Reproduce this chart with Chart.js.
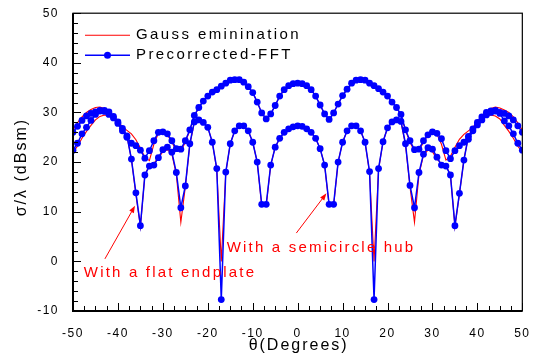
<!DOCTYPE html>
<html>
<head>
<meta charset="utf-8">
<script src="https://cdn.jsdelivr.net/npm/chart.js@4.4.0/dist/chart.umd.min.js"></script>
<style>
html,body{margin:0;padding:0;background:#fff;}
#wrap{width:536px;height:358px;position:relative;}
canvas{display:block;}
</style>
</head>
<body>
<div id="wrap"><canvas id="c" width="536" height="358"></canvas></div>
<script>
// ---------- data ----------
const theta = [-50,-49,-48,-47,-46,-45,-44,-43,-42,-41,
  -40,-39,-38,-37,-36,-35,-34,-33,-32,-31,
  -30,-29,-28,-27,-26,-25,-24,-23,-22,-21,
  -20,-19,-18,-17,-16,-15,-14,-13,-12,-11,
  -10,-9,-8,-7,-6,-5,-4,-3,-2,-1,
  0,
  1,2,3,4,5,6,7,8,9,10,
  11,12,13,14,15,16,17,18,19,20,
  21,22,23,24,25,26,27,28,29,30,
  31,32,33,34,35,36,37,38,39,40,
  41,42,43,44,45,46,47,48,49,50];

// flat endplate, Precorrected-FFT
const endplateFFT = [26.0,27.2,28.4,29.3,29.8,30.1,30.3,30.2,29.6,28.9,
  27.8,26.3,25.0,23.8,23.3,22.4,20.8,22.3,24.3,26.0,
  26.1,25.7,24.3,22.7,22.6,24.3,26.5,29.4,31.0,32.3,
  33.3,34.1,34.6,35.3,35.9,36.5,36.6,36.6,36.1,35.2,
  34.0,32.1,29.9,28.7,29.7,31.4,33.3,34.6,35.4,35.8,
  35.9,
  35.8,35.4,34.6,33.3,31.5,29.7,28.6,29.9,31.7,33.4,
  34.7,35.9,36.5,36.6,36.5,35.9,35.4,34.8,34.1,33.3,
  32.1,31.0,29.6,26.5,24.3,22.5,22.6,24.3,25.5,26.1,
  25.8,24.7,22.3,20.7,22.3,23.3,24.0,24.6,26.3,27.5,
  28.5,29.5,30.0,30.3,30.0,29.8,29.3,28.5,27.3,26.0];

// flat endplate, Gauss elimination
const endplateGauss = [26.4,27.9,29.1,30.0,30.6,31.0,31.1,30.8,30.2,29.3,
  28.2,27.1,26.4,25.7,24.5,22.8,21.0,20.3,23.6,25.8,
  26.0,25.5,24.0,22.3,22.2,24.0,26.4,29.2,31.0,32.3,
  33.3,34.1,34.6,35.3,35.9,36.5,36.6,36.6,36.1,35.2,
  34.0,32.1,29.9,28.7,29.7,31.4,33.3,34.6,35.4,35.8,
  35.9,
  35.8,35.4,34.6,33.3,31.5,29.7,28.6,29.9,31.7,33.4,
  34.7,35.9,36.5,36.6,36.5,35.9,35.4,34.8,34.1,33.3,
  32.1,31.0,29.4,26.4,24.0,22.2,22.3,24.0,25.4,26.0,
  25.6,23.6,20.4,21.2,23.0,24.6,25.6,26.3,27.0,28.2,
  29.2,30.2,30.8,31.1,30.9,30.5,30.0,29.1,27.9,26.4];

// semicircle hub, Precorrected-FFT
const hubFFT = [22.4,23.8,25.7,27.0,28.4,29.6,30.4,30.4,30.1,29.2,
  28.1,26.8,25.3,20.6,13.8,7.2,17.4,19.2,19.4,20.9,
  22.5,23.0,22.0,17.9,10.8,15.2,23.7,28.1,28.5,28.0,
  27.0,24.0,18.7,-7.7,18.0,23.7,26.3,27.3,27.3,26.3,
  24.0,20.0,11.5,11.5,19.4,23.0,24.8,26.0,26.7,27.1,
  27.3,
  27.2,26.7,26.0,24.8,22.7,19.4,11.5,11.5,20.0,24.0,
  26.3,27.3,27.3,26.3,24.0,18.1,-7.7,18.7,24.1,26.9,
  28.1,28.5,28.2,23.7,15.3,10.8,17.9,21.6,22.9,22.6,
  21.0,19.4,19.2,17.4,7.2,13.7,20.4,25.2,26.7,28.0,
  29.1,30.0,30.3,30.4,29.8,28.3,27.3,25.7,23.8,22.4];

// semicircle hub, Gauss elimination
const hubGauss = [22.0,23.2,24.8,26.2,27.4,28.5,29.2,29.5,29.4,28.8,
  28.0,26.8,25.3,20.6,13.5,7.0,17.4,19.4,19.8,20.8,
  22.1,22.5,21.6,17.5,7.9,15.0,23.5,28.0,28.5,28.0,
  27.0,24.0,18.5,0.0,17.8,23.7,26.3,27.3,27.3,26.3,
  24.0,20.0,11.2,11.2,19.4,23.0,24.8,26.0,26.7,27.1,
  27.3,
  27.2,26.7,26.0,24.8,22.7,19.4,11.2,11.2,20.0,24.0,
  26.3,27.3,27.3,26.3,24.0,17.8,0.0,18.5,24.1,26.9,
  28.0,28.5,28.0,23.5,15.0,7.9,17.5,21.4,22.4,22.1,
  20.6,19.7,19.3,17.4,7.0,13.5,20.5,25.2,26.8,28.0,
  28.8,29.4,29.5,29.3,28.7,27.4,26.2,24.8,23.2,22.0];

const xTickValues = [-50,-40,-30,-20,-10,0,10,20,30,40,50];
const yTickValues = [-10,0,10,20,30,40,50];
const legendLabels = ['Gauss eminination', 'Precorrected-FFT'];
const xTitle = 'θ(Degrees)';
const yTitle = 'σ/λ (dBsm)';
const notes = [
  {text: 'With a flat endplate', x: -47.6, y: -2.4, tail: [-42.9, 0.5], head: [-36.2, 11.2]},
  {text: 'With a semicircle hub', x: -15.8, y: 2.7, tail: [-0.3, 5.7], head: [6.4, 13.7]}
];

// ---------- chart ----------
const FONT = '"Liberation Sans", Arial, sans-serif';
const BLUE = '#0000ff';
const RED = '#ff0000';
Chart.defaults.font.family = FONT;

function pts(arr) { return theta.map((t, i) => ({x: t, y: arr[i]})); }

const blueStyle = {borderColor: BLUE, backgroundColor: BLUE, borderWidth: 1.5,
  pointRadius: 3.4, pointBorderWidth: 0, pointBackgroundColor: BLUE, tension: 0, order: 1};
const redStyle = {borderColor: RED, backgroundColor: RED, borderWidth: 1.1,
  pointRadius: 0, tension: 0, order: 2};

const decor = {
  id: 'decor',
  beforeDraw(chart) {
    chart.ctx.letterSpacing = '1.5px';
  },
  afterDraw(chart) {
    const {ctx, chartArea: a} = chart;
    const xs = chart.scales.x, ys = chart.scales.y;
    ctx.save();
    ctx.letterSpacing = '0px';
    ctx.strokeStyle = '#000';
    // inward ticks
    ctx.lineWidth = 1;
    ctx.beginPath();
    for (let v = ys.min; v <= ys.max + 1e-9; v += 2) {
      const p = Math.round(ys.getPixelForValue(v)) + 0.5;
      const len = (Math.abs(v % 10) < 1e-9) ? 8 : 5;
      ctx.moveTo(a.left, p); ctx.lineTo(a.left + len, p);
    }
    for (let v = xs.min; v <= xs.max + 1e-9; v += 2.5) {
      const p = Math.round(xs.getPixelForValue(v)) + 0.5;
      const len = (Math.abs(v % 10) < 1e-9) ? 8 : 5;
      ctx.moveTo(p, a.bottom); ctx.lineTo(p, a.bottom - len);
    }
    ctx.stroke();
    // frame
    ctx.lineWidth = 1.2;
    ctx.strokeRect(a.left, a.top, a.right - a.left, a.bottom - a.top);
    ctx.lineWidth = 2;
    ctx.beginPath();
    ctx.moveTo(a.left, a.top); ctx.lineTo(a.left, a.bottom); ctx.lineTo(a.right, a.bottom);
    ctx.stroke();

    // legend
    const lx0 = a.left + 12, lx1 = a.left + 57, ly0 = a.top + 22, ly1 = a.top + 42;
    ctx.strokeStyle = RED; ctx.lineWidth = 1.1;
    ctx.beginPath(); ctx.moveTo(lx0, ly0); ctx.lineTo(lx1, ly0); ctx.stroke();
    ctx.strokeStyle = BLUE; ctx.lineWidth = 1.5;
    ctx.beginPath(); ctx.moveTo(lx0, ly1); ctx.lineTo(lx1, ly1); ctx.stroke();
    ctx.fillStyle = BLUE;
    ctx.beginPath(); ctx.arc((lx0 + lx1) / 2, ly1, 3.5, 0, Math.PI * 2); ctx.fill();
    ctx.fillStyle = '#000';
    ctx.font = '15px ' + FONT;
    ctx.letterSpacing = '2.4px';
    ctx.textAlign = 'left'; ctx.textBaseline = 'middle';
    ctx.fillText(legendLabels[0], lx1 + 6, ly0);
    ctx.fillText(legendLabels[1], lx1 + 6, ly1);

    // annotations
    ctx.fillStyle = RED; ctx.strokeStyle = RED;
    ctx.letterSpacing = '2.2px';
    notes.forEach(n => {
      ctx.fillText(n.text, xs.getPixelForValue(n.x), ys.getPixelForValue(n.y));
      const tx = xs.getPixelForValue(n.tail[0]), ty = ys.getPixelForValue(n.tail[1]);
      const hx = xs.getPixelForValue(n.head[0]), hy = ys.getPixelForValue(n.head[1]);
      const ang = Math.atan2(hy - ty, hx - tx);
      const L = 7, W = 2.6;
      const bx = hx - L * Math.cos(ang), by = hy - L * Math.sin(ang);
      ctx.lineWidth = 1;
      ctx.beginPath(); ctx.moveTo(tx, ty); ctx.lineTo(bx, by); ctx.stroke();
      ctx.beginPath();
      ctx.moveTo(hx, hy);
      ctx.lineTo(bx + W * Math.sin(ang), by - W * Math.cos(ang));
      ctx.lineTo(bx - W * Math.sin(ang), by + W * Math.cos(ang));
      ctx.closePath(); ctx.fill();
    });

    // axis titles
    ctx.fillStyle = '#000';
    ctx.font = '16px ' + FONT;
    ctx.letterSpacing = '2px';
    ctx.textAlign = 'center'; ctx.textBaseline = 'middle';
    ctx.fillText(xTitle, (a.left + a.right) / 2 + 1, a.bottom + 35);
    ctx.save();
    ctx.translate(22, (a.top + a.bottom) / 2 + 5);
    ctx.rotate(-Math.PI / 2);
    ctx.fillText(yTitle, 0, 0);
    ctx.restore();
    ctx.restore();
  }
};

new Chart(document.getElementById('c'), {
  type: 'line',
  data: {
    datasets: [
      Object.assign({label: legendLabels[1], data: pts(endplateFFT)}, blueStyle),
      Object.assign({label: legendLabels[1], data: pts(hubFFT)}, blueStyle),
      Object.assign({label: legendLabels[0], data: pts(endplateGauss)}, redStyle),
      Object.assign({label: legendLabels[0], data: pts(hubGauss)}, redStyle)
    ]
  },
  options: {
    responsive: false,
    animation: false,
    events: [],
    layout: {padding: {top: 9, right: 13, left: 0, bottom: 0}},
    plugins: {legend: {display: false}, tooltip: {enabled: false}},
    scales: {
      x: {
        type: 'linear', min: -50, max: 50,
        grid: {display: false}, border: {display: false},
        afterBuildTicks: s => { s.ticks = xTickValues.map(v => ({value: v})); },
        afterFit: s => { s.height = 47; },
        ticks: {color: '#000', font: {size: 12}, padding: 7, maxRotation: 0, autoSkip: false}
      },
      y: {
        type: 'linear', min: -10, max: 50,
        grid: {display: false}, border: {display: false},
        afterBuildTicks: s => { s.ticks = yTickValues.map(v => ({value: v})); },
        afterFit: s => { s.width = 73; },
        ticks: {color: '#000', font: {size: 12}, padding: 6}
      }
    }
  },
  plugins: [decor]
});
</script>
</body>
</html>
